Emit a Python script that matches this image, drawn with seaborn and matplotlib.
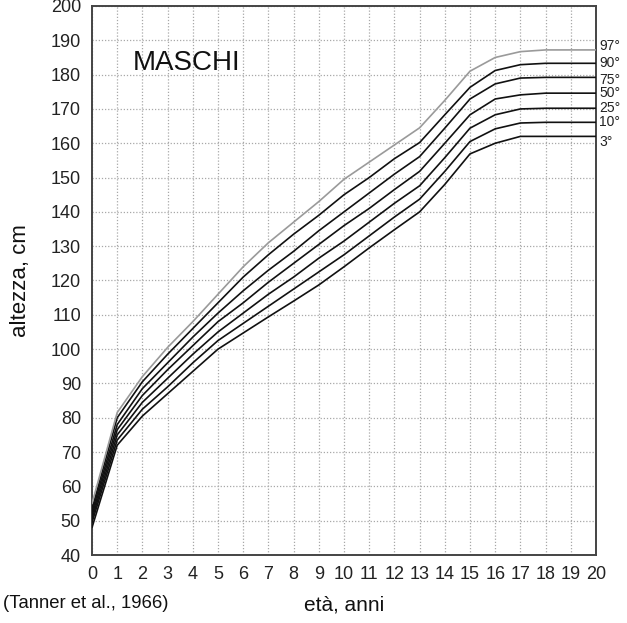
import numpy as np
import pandas as pd
import matplotlib
matplotlib.use("Agg")
import matplotlib.pyplot as plt
import seaborn as sns

ages = list(range(21))
p3 = [48, 72, 80.5, 87, 93.5, 100, 104.7, 109.4, 114, 118.7, 124, 129.5, 134.8, 140, 148, 156.9, 160, 162, 162, 162, 162]
p10 = [49.5, 73.5, 82.5, 89, 96, 102.5, 107.5, 112.5, 117.5, 122.5, 127.5, 133, 138.5, 143.7, 151.8, 160.5, 164.2, 165.9, 166.1, 166.1, 166.1]
p25 = [50.5, 75, 84.5, 91.5, 98.5, 105, 110.5, 116, 121, 126.5, 131.5, 137, 142.5, 147.6, 155.8, 164.4, 168.3, 170, 170.2, 170.2, 170.2]
p50 = [51.5, 76.5, 86.5, 94, 101, 108, 113.5, 119.5, 125, 130.5, 136, 141, 146.5, 151.8, 160, 168.3, 172.9, 174.1, 174.6, 174.6, 174.6]
p75 = [52.5, 78, 88.5, 96, 103.5, 110.5, 117, 123, 128.5, 134.5, 140, 145.5, 151, 156.1, 164.4, 172.9, 177.3, 179, 179.2, 179.2, 179.2]
p90 = [53.5, 80, 90.5, 98.5, 106, 113.5, 121, 127.5, 133.5, 139, 145, 150, 155.5, 160.2, 168.3, 176.3, 181.2, 182.9, 183.3, 183.3, 183.3]
p97 = [55, 81.5, 92, 100.5, 108, 116, 124, 131, 137, 143, 149.5, 154.5, 159.5, 164.5, 172.5, 181, 185, 186.7, 187.2, 187.2, 187.2]

percentiles = ["3°", "10°", "25°", "50°", "75°", "90°", "97°"]
curves = [p3, p10, p25, p50, p75, p90, p97]

# long format for seaborn
rows = []
for name, vals in zip(percentiles, curves):
    for a, h in zip(ages, vals):
        rows.append({"eta": a, "altezza": h, "percentile": name})
df = pd.DataFrame(rows)

sns.set_style("white")
plt.rcParams["font.family"] = ["Liberation Sans", "DejaVu Sans"]

fig = plt.figure(figsize=(6.27, 6.23), dpi=100)
ax = fig.add_axes([92 / 627, 1 - 555 / 623, 504 / 627, 549 / 623])

palette = {p: "#111111" for p in percentiles}
palette["97°"] = "#9a9a9a"
sns.lineplot(data=df, x="eta", y="altezza", hue="percentile", palette=palette,
             linewidth=1.2, legend=False, ax=ax, zorder=3)

ax.set_xlim(0, 20)
ax.set_ylim(40, 200)
ax.set_xticks(range(0, 21))
ax.set_yticks(range(40, 201, 10))
ax.grid(True, linestyle=(0, (1, 1.5)), color="#a8a8a8", linewidth=0.9)
ax.tick_params(length=0, labelsize=13, colors="#222222", pad=8)
for s in ax.spines.values():
    s.set_color("#444444")
    s.set_linewidth(1.4)

ax.set_xlabel("età, anni", fontsize=15, labelpad=9, color="#111111")
ax.set_ylabel("altezza, cm", fontsize=16, labelpad=14, color="#111111")

ax.text(1.6, 183.5, "MASCHI", fontsize=20, va="center", ha="left", color="#111111")

# etichette dei percentili a destra, un po' distanziate per non sovrapporsi
nudge = {"97°": 1.0, "90°": 0, "75°": -0.7, "3°": -1.6}
for name, vals in zip(percentiles, curves):
    y = vals[-1] + nudge.get(name, 0)
    ax.text(20.12, y, name, fontsize=10, va="center", ha="left", color="#222222",
            clip_on=False)

fig.text(0.005, 1 - 603 / 623, "(Tanner et al., 1966)", fontsize=13.3, va="center",
         ha="left", color="#111111")

fig.savefig("out.png", dpi=100)
